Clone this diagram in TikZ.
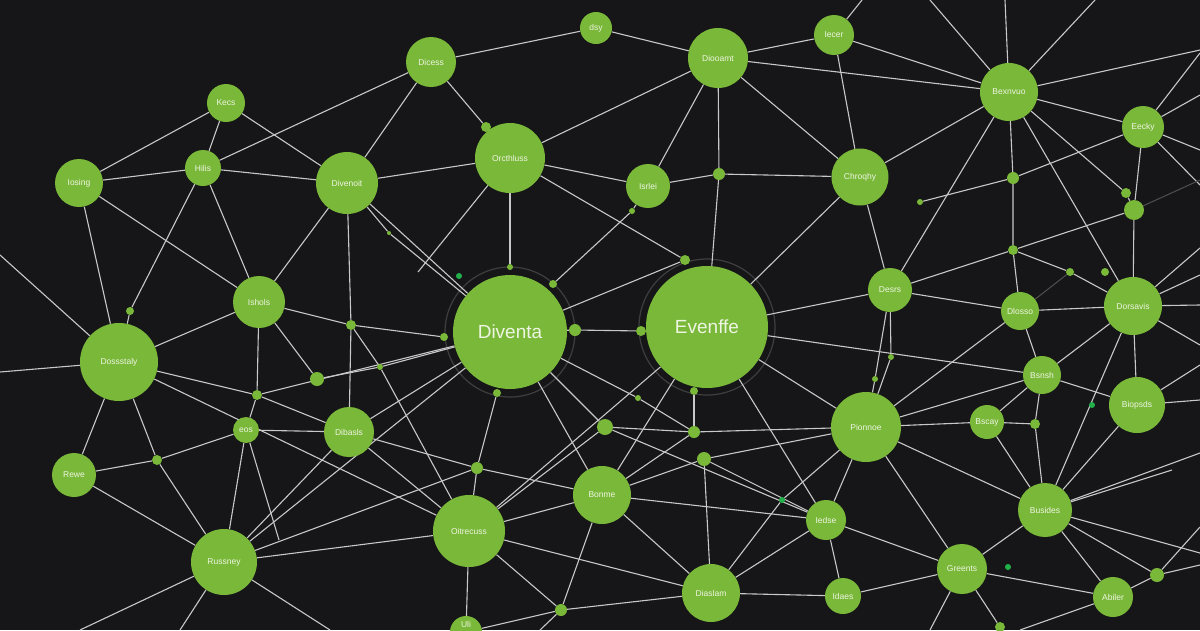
\documentclass[tikz,border=0pt]{standalone}
\usepackage{fontspec}
\setmainfont{Liberation Sans}
\pgfdeclarelayer{bgfill}
\pgfdeclarelayer{edges}
\pgfsetlayers{bgfill,edges,main}
\definecolor{bgc}{HTML}{161618}
\definecolor{ngreen}{HTML}{7AB83A}
\definecolor{lgrey}{HTML}{C8C8C8}
\definecolor{ltext}{HTML}{EEF5E2}
\definecolor{bgreen}{HTML}{22B04A}
\definecolor{ringgrey}{HTML}{3E3E3E}
\definecolor{dimgrey}{HTML}{505050}
\tikzset{
 gnode/.style={circle,fill=ngreen,inner sep=0pt,text=ltext,font=\fontsize{8.5}{9}\selectfont},
 bignode/.style={gnode,font=\fontsize{19}{20}\selectfont},
 gdot/.style={circle,fill=ngreen,inner sep=0pt},
 bdot/.style={circle,fill=bgreen,inner sep=0pt},
 edge/.style={draw=lgrey,line width=1.1pt},
 dimedge/.style={draw=dimgrey,line width=1pt},
 ringc/.style={circle,draw=ringgrey,line width=1.2pt,inner sep=0pt,fill=none},
 lbl/.style={inner sep=0pt,text=ltext,font=\fontsize{8.5}{9}\selectfont},
}
\begin{document}
\begin{tikzpicture}[x=1pt,y=-1pt]
\begin{pgfonlayer}{bgfill}
\fill[bgc] (0,0) rectangle (1200,630);
\end{pgfonlayer}
\useasboundingbox (0,0) rectangle (1200,630);
% labelled nodes
\node[gnode,minimum size=38pt] (kecs) at (226,103) {Kecs};
\node[gnode,minimum size=48pt] (iosing) at (79,183) {Iosing};
\node[gnode,minimum size=36pt] (hilis) at (203,168) {Hilis};
\node[gnode,minimum size=50pt] (dicess) at (431,62) {Dicess};
\node[gnode,minimum size=32pt] (dsy) at (596,28) {dsy};
\node[gnode,minimum size=62pt] (divenoit) at (347,183) {Divenoit};
\node[gnode,minimum size=70pt] (orcth) at (510,158) {Orcthluss};
\node[gnode,minimum size=60pt] (diooamt) at (718,58) {Diooamt};
\node[gnode,minimum size=40pt] (iecer) at (834,35) {Iecer};
\node[gnode,minimum size=44pt] (isrlei) at (648,186) {Isrlei};
\node[gnode,minimum size=57pt] (chroqhy) at (860,177) {Chroqhy};
\node[gnode,minimum size=58pt] (bexnvuo) at (1009,92) {Bexnvuo};
\node[gnode,minimum size=42pt] (eecky) at (1143,127) {Eecky};
\node[gnode,minimum size=78pt] (dossstaly) at (119,362) {Dossstaly};
\node[gnode,minimum size=52pt] (ishols) at (259,302) {Ishols};
\node[bignode,minimum size=114pt] (diventa) at (510,332) {Diventa};
\node[bignode,minimum size=122pt] (evenffe) at (707,327) {Evenffe};
\node[gnode,minimum size=44pt] (desrs) at (890,290) {Desrs};
\node[gnode,minimum size=70pt] (pionnoe) at (866,427) {Pionnoe};
\node[gnode,minimum size=38pt] (dlosso) at (1020,311) {Dlosso};
\node[gnode,minimum size=58pt] (dorsavis) at (1133,306) {Dorsavis};
\node[gnode,minimum size=38pt] (bsnsh) at (1042,375) {Bsnsh};
\node[gnode,minimum size=56pt] (biopsds) at (1137,405) {Biopsds};
\node[gnode,minimum size=34pt] (bscay) at (987,422) {Bscay};
\node[gnode,minimum size=44pt] (rewe) at (74,475) {Rewe};
\node[gnode,minimum size=26pt] (eos) at (246,430) {eos};
\node[gnode,minimum size=66pt] (russney) at (224,562) {Russney};
\node[gnode,minimum size=50pt] (dibasls) at (349,432) {Dibasls};
\node[gnode,minimum size=72pt] (oitrec) at (469,531) {Oitrecuss};
\node[gnode,minimum size=32pt] (uli) at (466,632) {};
\node[lbl] (ulitext) at (466,624) {Uli};
\node[gnode,minimum size=58pt] (bonme) at (602,495) {Bonme};
\node[gnode,minimum size=40pt] (iedse) at (826,520) {Iedse};
\node[gnode,minimum size=58pt] (diaslam) at (711,593) {Diaslam};
\node[gnode,minimum size=36pt] (idaes) at (843,596) {Idaes};
\node[gnode,minimum size=54pt] (busides) at (1045,510) {Busides};
\node[gnode,minimum size=50pt] (greents) at (962,569) {Greents};
\node[gnode,minimum size=40pt] (abiler) at (1113,597) {Abiler};
% small dots
\node[gdot,minimum size=10pt] (da) at (486,127) {};
\node[gdot,minimum size=12pt] (db) at (719,174) {};
\node[gdot,minimum size=12pt] (dc) at (1013,178) {};
\node[gdot,minimum size=20pt] (dd) at (1134,210) {};
\node[gdot,minimum size=10pt] (de) at (1126,193) {};
\node[gdot,minimum size=6pt] (df) at (920,202) {};
\node[gdot,minimum size=8pt] (dg) at (130,311) {};
\node[gdot,minimum size=10pt] (dh) at (257,395) {};
\node[gdot,minimum size=6pt] (di) at (510,267) {};
\node[gdot,minimum size=12pt] (dj) at (575,330) {};
\node[gdot,minimum size=8pt] (dk) at (444,337) {};
\node[gdot,minimum size=8pt] (dl) at (497,393) {};
\node[gdot,minimum size=8pt] (dm) at (553,284) {};
\node[gdot,minimum size=10pt] (dn) at (351,325) {};
\node[gdot,minimum size=14pt] (dO) at (317,379) {};
\node[gdot,minimum size=6pt] (dp) at (380,367) {};
\node[gdot,minimum size=4pt] (dq) at (389,233) {};
\node[gdot,minimum size=10pt] (dr) at (641,331) {};
\node[gdot,minimum size=10pt] (ds) at (685,260) {};
\node[gdot,minimum size=8pt] (dt) at (694,391) {};
\node[gdot,minimum size=6pt] (du) at (638,398) {};
\node[gdot,minimum size=6pt] (dv) at (632,211) {};
\node[gdot,minimum size=6pt] (dw) at (891,357) {};
\node[gdot,minimum size=6pt] (dx) at (875,379) {};
\node[gdot,minimum size=10pt] (dy) at (1013,250) {};
\node[gdot,minimum size=8pt] (dz) at (1070,272) {};
\node[gdot,minimum size=8pt] (dA) at (1105,272) {};
\node[gdot,minimum size=10pt] (dB) at (1035,424) {};
\node[gdot,minimum size=10pt] (dC) at (157,460) {};
\node[gdot,minimum size=12pt] (dD) at (477,468) {};
\node[gdot,minimum size=12pt] (dE) at (561,610) {};
\node[gdot,minimum size=16pt] (dF) at (605,427) {};
\node[gdot,minimum size=12pt] (dG) at (694,432) {};
\node[gdot,minimum size=14pt] (dH) at (704,459) {};
\node[gdot,minimum size=14pt] (dI) at (1157,575) {};
\node[gdot,minimum size=10pt] (dJ) at (1000,627) {};
\node[bdot,minimum size=6pt] (ba) at (459,276) {};
\node[bdot,minimum size=6pt] (bb) at (1092,405) {};
\node[bdot,minimum size=6pt] (bc) at (1008,567) {};
\node[bdot,minimum size=6pt] (bd) at (782,500) {};
% free ends
\coordinate (fA) at (418,272);
\coordinate (fC) at (862,0);
\coordinate (fD) at (930,0);
\coordinate (fE) at (1005,0);
\coordinate (fF) at (1095,0);
\coordinate (fG) at (1200,50);
\coordinate (fH) at (1200,53);
\coordinate (fI) at (1200,95);
\coordinate (fJ) at (1200,150);
\coordinate (fK) at (1200,185);
\coordinate (fL) at (0,255);
\coordinate (fM) at (0,372);
\coordinate (fO) at (1200,248);
\coordinate (fP) at (1200,275);
\coordinate (fQ) at (1200,305);
\coordinate (fR) at (1200,345);
\coordinate (fS) at (1200,400);
\coordinate (fT) at (1200,365);
\coordinate (fU) at (279,540);
\coordinate (fV) at (80,630);
\coordinate (fW) at (180,630);
\coordinate (fX) at (330,630);
\coordinate (fY) at (540,630);
\coordinate (fZ) at (930,630);
\coordinate (fAA) at (1200,453);
\coordinate (fAB) at (1172,470);
\coordinate (fAC) at (1200,553);
\coordinate (fAD) at (1020,630);
\coordinate (fAE) at (1200,565);
\coordinate (fAF) at (1200,527);
\coordinate (fAG) at (1200,180);
\begin{pgfonlayer}{edges}
\node[ringc,minimum size=130pt] (ringa) at (510,332) {};
\node[ringc,minimum size=136pt] (ringb) at (707,327) {};
\draw[edge] (iosing) -- (kecs);
\draw[edge] (kecs) -- (hilis);
\draw[edge] (kecs) -- (divenoit);
\draw[edge] (hilis) -- (dicess);
\draw[edge] (iosing) -- (hilis);
\draw[edge] (hilis) -- (divenoit);
\draw[edge] (iosing) -- (dossstaly);
\draw[edge] (iosing) -- (ishols);
\draw[edge] (hilis) -- (dg) -- (dossstaly);
\draw[edge] (hilis) -- (ishols);
\draw[edge] (dicess) -- (divenoit);
\draw[edge] (dicess) -- (da) -- (orcth);
\draw[edge] (dicess) -- (dsy);
\draw[edge] (divenoit) -- (orcth);
\draw[edge] (orcth) -- (diooamt);
\draw[edge] (orcth) -- (isrlei);
\draw[edge] (orcth) -- (ds);
\draw[edge] (orcth) -- (di);
\draw[edge] (orcth) -- (fA);
\draw[edge] (dsy) -- (diooamt);
\draw[edge] (diooamt) -- (iecer);
\draw[edge] (diooamt) -- (bexnvuo);
\draw[edge] (iecer) -- (bexnvuo);
\draw[edge] (iecer) -- (fC);
\draw[edge] (iecer) -- (chroqhy);
\draw[edge] (diooamt) -- (isrlei);
\draw[edge] (diooamt) -- (db) -- (evenffe);
\draw[edge] (diooamt) -- (chroqhy);
\draw[edge] (isrlei) -- (db) -- (chroqhy);
\draw[edge] (isrlei) -- (dv) -- (dm);
\draw[edge] (bexnvuo) -- (fD);
\draw[edge] (bexnvuo) -- (fE);
\draw[edge] (bexnvuo) -- (fF);
\draw[edge] (bexnvuo) -- (fG);
\draw[edge] (bexnvuo) -- (eecky);
\draw[edge] (bexnvuo) -- (chroqhy);
\draw[edge] (bexnvuo) -- (desrs);
\draw[edge] (bexnvuo) -- (dc) -- (dy) -- (dlosso);
\draw[edge] (bexnvuo) -- (dorsavis);
\draw[edge] (bexnvuo) -- (de) -- (dd);
\draw[edge] (eecky) -- (fH);
\draw[edge] (eecky) -- (fI);
\draw[edge] (eecky) -- (fJ);
\draw[edge] (eecky) -- (fK);
\draw[edge] (eecky) -- (dd);
\draw[edge] (eecky) -- (dc) -- (df);
\draw[edge] (dd) -- (dorsavis);
\draw[dimedge] (dd) -- (fAG);
\draw[edge] (dossstaly) -- (fL);
\draw[edge] (dossstaly) -- (fM);
\draw[edge] (dossstaly) -- (ishols);
\draw[edge] (ishols) -- (divenoit);
\draw[edge] (ishols) -- (dn) -- (dk);
\draw[edge] (ishols) -- (dO);
\draw[edge] (ishols) -- (dh) -- (eos);
\draw[edge] (dossstaly) -- (dh) -- (dibasls);
\draw[edge] (dh) -- (diventa);
\draw[edge] (dossstaly) -- (oitrec);
\draw[edge] (dossstaly) -- (rewe);
\draw[edge] (dossstaly) -- (dC) -- (russney);
\draw[edge] (divenoit) -- (dn) -- (dibasls);
\draw[edge] (divenoit) -- (dq) -- (diventa);
\draw[edge] (divenoit) -- (diventa);
\draw[edge] (diventa) -- (dj) -- (dr) -- (evenffe);
\draw[edge] (diventa) -- (ds);
\draw[edge] (dO) -- (dp) -- (diventa);
\draw[edge] (dn) -- (dp) -- (oitrec);
\draw[edge] (diventa) -- (dibasls);
\draw[edge] (diventa) -- (russney);
\draw[edge] (dl) -- (dD);
\draw[edge] (diventa) -- (bonme);
\draw[edge] (diventa) -- (du) -- (dG);
\draw[edge] (diventa) -- (dF);
\draw[edge] (evenffe) -- (chroqhy);
\draw[edge] (evenffe) -- (desrs);
\draw[edge] (evenffe) -- (bsnsh);
\draw[edge] (evenffe) -- (iedse);
\draw[edge] (evenffe) -- (pionnoe);
\draw[edge] (dt) -- (dG);
\draw[edge] (chroqhy) -- (desrs);
\draw[edge] (desrs) -- (dlosso);
\draw[edge] (desrs) -- (dx) -- (pionnoe);
\draw[edge] (desrs) -- (dw) -- (pionnoe);
\draw[edge] (desrs) -- (dy);
\draw[edge] (dy) -- (dz) -- (dorsavis);
\draw[edge] (dy) -- (dd);
\draw[dimedge] (dz) -- (dlosso);
\draw[edge] (dlosso) -- (dorsavis);
\draw[edge] (dorsavis) -- (fO);
\draw[edge] (dorsavis) -- (fP);
\draw[edge] (dorsavis) -- (fQ);
\draw[edge] (dorsavis) -- (fR);
\draw[edge] (dorsavis) -- (biopsds);
\draw[edge] (dorsavis) -- (bsnsh);
\draw[edge] (dorsavis) -- (busides);
\draw[edge] (dlosso) -- (bsnsh);
\draw[edge] (dlosso) -- (pionnoe);
\draw[edge] (bsnsh) -- (pionnoe);
\draw[edge] (bsnsh) -- (biopsds);
\draw[edge] (bsnsh) -- (dB) -- (busides);
\draw[edge] (bsnsh) -- (bscay);
\draw[edge] (biopsds) -- (fS);
\draw[edge] (biopsds) -- (fT);
\draw[edge] (biopsds) -- (busides);
\draw[edge] (rewe) -- (dC) -- (eos);
\draw[edge] (rewe) -- (russney);
\draw[edge] (eos) -- (russney);
\draw[edge] (eos) -- (fU);
\draw[edge] (eos) -- (dibasls);
\draw[edge] (russney) -- (dibasls);
\draw[edge] (russney) -- (dD);
\draw[edge] (russney) -- (oitrec);
\draw[edge] (russney) -- (fV);
\draw[edge] (russney) -- (fW);
\draw[edge] (russney) -- (fX);
\draw[edge] (dibasls) -- (dD) -- (bonme);
\draw[edge] (dibasls) -- (oitrec);
\draw[edge] (dF) -- (oitrec);
\draw[edge] (oitrec) -- (bonme);
\draw[edge] (oitrec) -- (evenffe);
\draw[edge] (oitrec) -- (diaslam);
\draw[edge] (oitrec) -- (dE);
\draw[edge] (oitrec) -- (uli);
\draw[edge] (dD) -- (oitrec);
\draw[edge] (dE) -- (diaslam);
\draw[edge] (bonme) -- (dE);
\draw[edge] (uli) -- (dE);
\draw[edge] (dE) -- (fY);
\draw[edge] (dF) -- (dG) -- (pionnoe);
\draw[edge] (dH) -- (pionnoe);
\draw[edge] (bonme) -- (dG);
\draw[edge] (bonme) -- (dH);
\draw[edge] (bonme) -- (evenffe);
\draw[edge] (bonme) -- (iedse);
\draw[edge] (bonme) -- (diaslam);
\draw[edge] (dF) -- (iedse);
\draw[edge] (dH) -- (iedse);
\draw[edge] (dH) -- (diaslam);
\draw[edge] (pionnoe) -- (bd) -- (diaslam);
\draw[edge] (pionnoe) -- (iedse);
\draw[edge] (pionnoe) -- (greents);
\draw[edge] (pionnoe) -- (bscay);
\draw[edge] (pionnoe) -- (busides);
\draw[edge] (iedse) -- (diaslam);
\draw[edge] (iedse) -- (idaes);
\draw[edge] (iedse) -- (greents);
\draw[edge] (diaslam) -- (idaes);
\draw[edge] (idaes) -- (greents);
\draw[edge] (bscay) -- (dB);
\draw[edge] (bscay) -- (busides);
\draw[edge] (greents) -- (abiler);
\draw[edge] (greents) -- (busides);
\draw[edge] (greents) -- (dJ);
\draw[edge] (greents) -- (fZ);
\draw[edge] (busides) -- (fAA);
\draw[edge] (busides) -- (fAB);
\draw[edge] (busides) -- (fAC);
\draw[edge] (busides) -- (dI);
\draw[edge] (busides) -- (abiler);
\draw[edge] (abiler) -- (dI);
\draw[edge] (abiler) -- (fAD);
\draw[edge] (dI) -- (fAE);
\draw[edge] (dI) -- (fAF);
\end{pgfonlayer}
\end{tikzpicture}
\end{document}
